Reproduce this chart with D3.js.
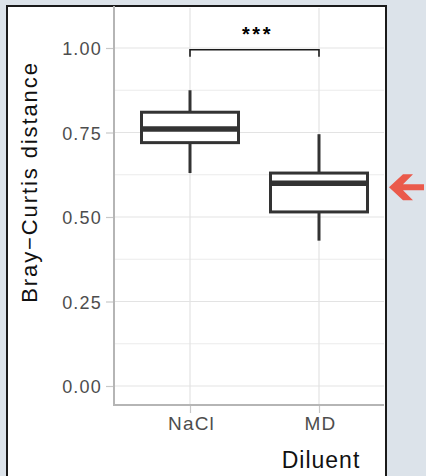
<!DOCTYPE html>
<html>
<head>
<meta charset="utf-8">
<script src="https://cdn.jsdelivr.net/npm/d3@7"></script>
<style>
  html, body { margin: 0; padding: 0; background: #dce3ea; }
  svg { display: block; }
</style>
</head>
<body>
<div id="chart"></div>
<script>
'use strict';

var categories = ['NaCl', 'MD'];
var whiskerLow = [0.63, 0.43];
var boxLow = [0.72, 0.515];
var medians = [0.76, 0.60];
var boxHigh = [0.81, 0.63];
var whiskerHigh = [0.875, 0.745];
var yTicks = [0, 0.25, 0.5, 0.75, 1];
var yMinor = [0.125, 0.375, 0.625, 0.875];
var bracketY = 0.995;
var signif = '***';

var W = 426, H = 476;
var plot = { left: 114, right: 384, top: 8, bottom: 405 };
var font = 'Liberation Sans, Arial, sans-serif';

var $svg = d3.select('#chart').append('svg')
  .attr('width', W)
  .attr('height', H);

// white panel with dark border
$svg.append('rect')
  .attr('x', 7).attr('y', 6)
  .attr('width', 379).attr('height', 480)
  .attr('fill', 'white')
  .attr('stroke', '#1a1a1a')
  .attr('stroke-width', 2);

var y = d3.scaleLinear().domain([0, 1]).range([386, 48]);
var x = d3.scalePoint().domain(categories).range([190, 319]);

var g = $svg.append('g');

// grid
g.selectAll('line.minor').data(yMinor).enter().append('line')
  .attr('x1', plot.left).attr('x2', plot.right)
  .attr('y1', function(d) { return y(d); })
  .attr('y2', function(d) { return y(d); })
  .attr('stroke', '#ebebeb').attr('stroke-width', 1);

g.selectAll('line.major').data(yTicks).enter().append('line')
  .attr('x1', plot.left).attr('x2', plot.right)
  .attr('y1', function(d) { return y(d); })
  .attr('y2', function(d) { return y(d); })
  .attr('stroke', '#e3e3e3').attr('stroke-width', 1.2);

g.selectAll('line.vgrid').data(categories).enter().append('line')
  .attr('x1', function(d) { return x(d); })
  .attr('x2', function(d) { return x(d); })
  .attr('y1', plot.top).attr('y2', plot.bottom)
  .attr('stroke', '#e3e3e3').attr('stroke-width', 1.2);

// axes
var yAxis = d3.axisLeft(y).tickValues(yTicks)
  .tickFormat(d3.format('.2f')).tickSize(7).tickPadding(4);
var $ya = $svg.append('g').attr('transform', 'translate(' + (plot.left - 1) + ',0)').call(yAxis);
$ya.select('.domain').remove();
$ya.selectAll('line').attr('stroke', '#c8c8c8').attr('stroke-width', 1.2);
$ya.selectAll('text').attr('fill', '#4d4d4d').attr('dy', '0.38em')
  .style('font-family', font).style('font-size', '18px').style('letter-spacing', '1.2px');

var xAxis = d3.axisBottom(x).tickSize(7).tickPadding(4);
var $xa = $svg.append('g').attr('transform', 'translate(0,' + (plot.bottom + 1) + ')').call(xAxis);
$xa.select('.domain').remove();
$xa.selectAll('line').attr('stroke', '#c8c8c8').attr('stroke-width', 1.2);
$xa.selectAll('text').attr('fill', '#4d4d4d').attr('dx', '1px')
  .style('font-family', font).style('font-size', '19px').style('letter-spacing', '1.2px');

// axis lines
$svg.append('line')
  .attr('x1', plot.left).attr('x2', plot.left)
  .attr('y1', plot.top - 2).attr('y2', plot.bottom + 1)
  .attr('stroke', '#b5b5b5').attr('stroke-width', 2);
$svg.append('line')
  .attr('x1', plot.left - 1).attr('x2', plot.right)
  .attr('y1', plot.bottom).attr('y2', plot.bottom)
  .attr('stroke', '#b5b5b5').attr('stroke-width', 2);

// boxes
var boxW = 97;
var ink = '#333333';
var boxes = $svg.append('g').selectAll('g').data(categories).enter().append('g');

boxes.append('line')
  .attr('x1', function(d) { return x(d); })
  .attr('x2', function(d) { return x(d); })
  .attr('y1', function(d, i) { return y(whiskerHigh[i]); })
  .attr('y2', function(d, i) { return y(boxHigh[i]); })
  .attr('stroke', ink).attr('stroke-width', 3);
boxes.append('line')
  .attr('x1', function(d) { return x(d); })
  .attr('x2', function(d) { return x(d); })
  .attr('y1', function(d, i) { return y(boxLow[i]); })
  .attr('y2', function(d, i) { return y(whiskerLow[i]); })
  .attr('stroke', ink).attr('stroke-width', 3);
boxes.append('rect')
  .attr('x', function(d) { return x(d) - boxW / 2; })
  .attr('y', function(d, i) { return y(boxHigh[i]); })
  .attr('width', boxW)
  .attr('height', function(d, i) { return y(boxLow[i]) - y(boxHigh[i]); })
  .attr('fill', 'white').attr('stroke', ink).attr('stroke-width', 3);
boxes.append('line')
  .attr('x1', function(d) { return x(d) - boxW / 2; })
  .attr('x2', function(d) { return x(d) + boxW / 2; })
  .attr('y1', function(d, i) { return y(medians[i]); })
  .attr('y2', function(d, i) { return y(medians[i]); })
  .attr('stroke', ink).attr('stroke-width', 5.5);

// significance bracket
var by = y(bracketY);
$svg.append('path')
  .attr('d', 'M' + x('NaCl') + ',' + (by + 7) + 'V' + by + 'H' + x('MD') + 'V' + (by + 7))
  .attr('fill', 'none').attr('stroke', '#1a1a1a').attr('stroke-width', 1.6);
$svg.append('text')
  .attr('x', (x('NaCl') + x('MD')) / 2 + 3).attr('y', by - 9)
  .attr('text-anchor', 'middle')
  .style('font-family', font).style('font-size', '20px').style('letter-spacing', '2.5px')
  .style('font-weight', 'bold')
  .text(signif);

// axis titles
$svg.append('text')
  .attr('transform', 'translate(37,' + 182 + ') rotate(-90)')
  .attr('text-anchor', 'middle')
  .style('font-family', font).style('font-size', '22px').style('letter-spacing', '1.9px')
  .attr('fill', '#111')
  .text('Bray\u2212Curtis distance');
$svg.append('text')
  .attr('x', 321).attr('y', 468)
  .attr('text-anchor', 'middle')
  .style('font-family', font).style('font-size', '23px').style('letter-spacing', '1px')
  .attr('fill', '#111')
  .text('Diluent');

// red arrow marker
var ay = y(medians[1]) + 4;
$svg.append('path')
  .attr('d', 'M424,' + (ay - 3) + 'H403L413,' + (ay - 13) + 'H403L389,' + ay +
    'L403,' + (ay + 13) + 'H413L403,' + (ay + 3) + 'H424Z')
  .attr('fill', '#ea5a4b');
</script>
</body>
</html>
